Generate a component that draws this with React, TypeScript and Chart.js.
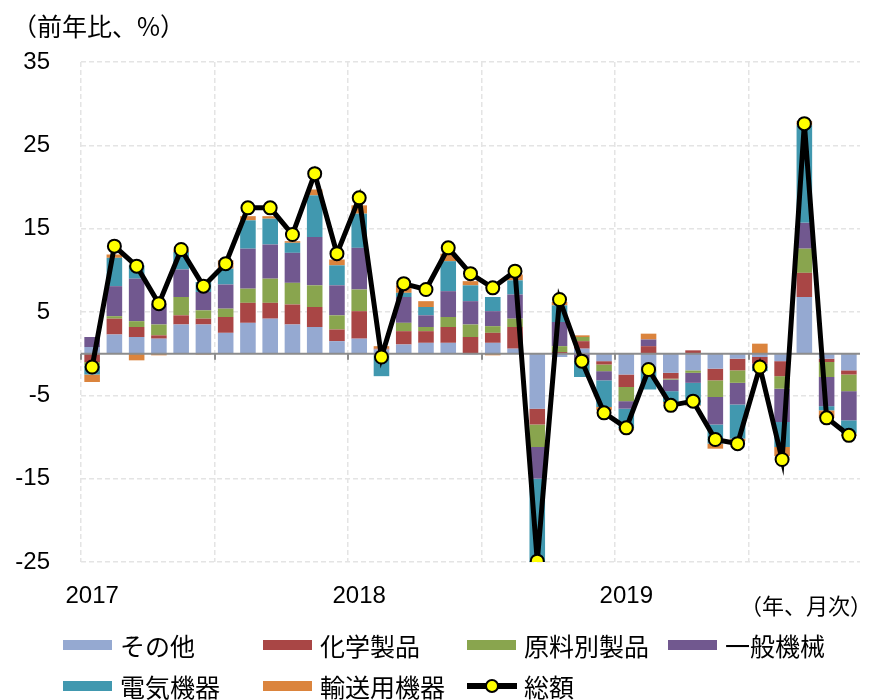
import React, { useEffect, useRef } from "react";
import { Chart, registerables } from "chart.js";

Chart.register(...registerables);

// 2017年1月 〜 2019年11月
const months = [
  "2017-01", "2017-02", "2017-03", "2017-04", "2017-05", "2017-06",
  "2017-07", "2017-08", "2017-09", "2017-10", "2017-11", "2017-12",
  "2018-01", "2018-02", "2018-03", "2018-04", "2018-05", "2018-06",
  "2018-07", "2018-08", "2018-09", "2018-10", "2018-11", "2018-12",
  "2019-01", "2019-02", "2019-03", "2019-04", "2019-05", "2019-06",
  "2019-07", "2019-08", "2019-09", "2019-10", "2019-11",
];
const yearTicks = ["2017", "2018", "2019"];
const yTicks = [-25, -15, -5, 5, 15, 25, 35];

const other = [0.8, 2.3, 2.0, 1.8, 3.5, 3.5, 2.5, 3.7, 4.2, 3.5, 3.2, 1.5, 1.8, 0.5, 1.1, 1.3, 1.3, -0.1, 1.3, 0.6, -6.6, -0.4, 0.6, -0.9, -2.5, -1.9, -2.3, -2.0, -1.8, -0.6, -0.4, -0.9, 6.8, -0.6, -2.0];
const chemical = [-1.0, 1.9, 1.2, 0.4, 1.1, 0.7, 1.9, 2.4, 1.9, 2.4, 2.4, 1.4, 3.3, 0.1, 1.6, 1.4, 1.9, 2.0, 1.2, 2.6, -1.9, 0.2, 0.9, -0.4, -1.5, 0.9, -0.7, 0.4, -1.4, -1.4, -0.8, -1.8, 2.9, -0.4, -0.5];
const material = [-0.4, 0.3, 0.7, 1.3, 2.2, 1.0, 1.0, 1.7, 2.9, 2.6, 2.6, 1.7, 2.6, 0.0, 1.0, 0.5, 1.2, 1.5, 0.8, 1.0, -2.7, 0.7, 0.5, -0.8, -1.7, -0.2, -0.1, -0.3, -2.0, -1.5, 0.0, -1.5, 2.9, -1.8, -2.0];
const machinery = [1.2, 3.6, 5.1, 2.5, 3.3, 2.2, 2.9, 4.8, 4.1, 3.6, 5.8, 3.6, 5.0, -0.2, 3.1, 1.4, 3.1, 2.8, 1.8, 2.9, -3.8, 2.9, -0.8, -1.1, -0.9, 0.8, -1.4, -1.2, -3.3, -2.6, -0.3, -4.0, 3.1, -3.5, -3.5];
const electric = [-1.1, 3.4, 1.6, 0.0, 2.1, 1.2, 1.9, 3.4, 3.1, 1.2, 5.0, 2.4, 4.1, -2.5, 0.5, 1.0, 3.6, 1.9, 1.7, 1.7, -10.1, 2.0, -2.0, -3.2, -2.4, -2.2, -1.3, -2.7, -2.3, -4.1, -0.6, -3.0, 11.7, -0.5, -1.6];
const transport = [-0.9, 0.4, -0.8, -0.2, 0.2, -0.1, 1.0, 0.5, 0.3, 0.2, 0.7, 0.7, 1.0, 0.3, 0.9, 0.7, 0.9, 0.5, -0.2, 0.7, 0.0, 0.4, 0.2, -0.4, -0.2, 0.7, -0.2, -0.1, -0.6, -0.3, 1.2, -1.1, 0.5, -0.9, -0.3];
const total = [-1.6, 12.9, 10.5, 6.0, 12.5, 8.1, 10.8, 17.5, 17.5, 14.3, 21.6, 12.0, 18.7, -0.4, 8.4, 7.7, 12.7, 9.6, 7.9, 9.9, -24.9, 6.5, -0.9, -7.1, -8.9, -1.9, -6.2, -5.7, -10.3, -10.8, -1.6, -12.7, 27.6, -7.7, -9.8];

const seriesNames = ["その他", "化学製品", "原料別製品", "一般機械", "電気機器", "輸送用機器"];
const seriesColors = ["#95A9D1", "#A94645", "#89A54E", "#71588F", "#4198AF", "#DB843D"];
const seriesData = [other, chemical, material, machinery, electric, transport];
const totalName = "総額";

const NUM_FONT = '"Liberation Sans", Arial, "Noto Sans CJK JP", sans-serif';
const JP_FONT = '"Noto Sans CJK JP", "Liberation Sans", sans-serif';
const GRID = "#e4e4e4";

const zeroAxisPlugin = {
  id: "zeroAxis",
  beforeDatasetDraw(chart: any, args: any) {
    if (args.meta.type !== "line") return;
    const { ctx, chartArea, scales } = chart;
    const y = scales.y.getPixelForValue(0);
    const step = chartArea.width / months.length;
    ctx.save();
    ctx.strokeStyle = "#8c8c8c";
    ctx.lineWidth = 2;
    ctx.beginPath();
    ctx.moveTo(chartArea.left, y);
    ctx.lineTo(chartArea.right, y);
    for (let k = 0; k < months.length; k += 6) {
      const x = Math.round(chartArea.left + k * step);
      ctx.moveTo(x, y);
      ctx.lineTo(x, y + 6);
    }
    ctx.stroke();
    ctx.restore();
  },
};

export default function App() {
  const ref = useRef<HTMLCanvasElement>(null);

  useEffect(() => {
    if (!ref.current) return;
    const datasets: any[] = seriesNames.map((name, i) => ({
      type: "bar",
      label: name,
      data: seriesData[i],
      backgroundColor: seriesColors[i],
      borderWidth: 0,
      stack: "parts",
      order: 1,
      barPercentage: 0.7,
      categoryPercentage: 1.0,
    }));
    datasets.push({
      type: "line",
      label: totalName,
      data: total,
      stack: "total",
      order: 0,
      borderColor: "#000000",
      borderWidth: 5,
      tension: 0,
      pointRadius: 6.5,
      pointBorderWidth: 2,
      pointBackgroundColor: "#FFFF00",
      pointBorderColor: "#000000",
    });

    const chart = new Chart(ref.current, {
      type: "bar",
      data: { labels: months, datasets },
      plugins: [zeroAxisPlugin],
      options: {
        responsive: false,
        animation: false,
        devicePixelRatio: 1,
        layout: { padding: { left: 0, top: 62, right: 12, bottom: 88 } },
        plugins: {
          legend: { display: false },
          tooltip: { enabled: false },
        },
        scales: {
          x: {
            stacked: true,
            grid: {
              offset: true,
              drawTicks: false,
              lineWidth: 1.5,
              color: (c: any) => (c.index % 6 === 0 ? GRID : "rgba(0,0,0,0)"),
            },
            border: { display: false, dash: [5, 3] },
            ticks: {
              autoSkip: false,
              maxRotation: 0,
              minRotation: 0,
              padding: 20,
              color: "#000",
              font: { size: 24, family: NUM_FONT },
              callback: (_v: any, index: number) =>
                index % 12 === 0 ? yearTicks[index / 12] : "",
            },
            afterFit: (s: any) => {
              s.height = 50;
            },
          },
          y: {
            stacked: true,
            min: yTicks[0],
            max: yTicks[yTicks.length - 1],
            grid: { drawTicks: false, lineWidth: 1.5, color: GRID },
            border: { display: false, dash: [5, 3] },
            ticks: {
              stepSize: 10,
              padding: 31,
              color: "#000",
              font: { size: 24, family: NUM_FONT },
            },
            afterFit: (s: any) => {
              s.width = 81;
            },
          },
        },
      } as any,
    });
    return () => chart.destroy();
  }, []);

  const legendCols = [63, 263, 467, 668];
  const legendItems = [
    ...seriesNames.map((n, i) => ({ name: n, color: seriesColors[i], line: false })),
    { name: totalName, color: "#000", line: true },
  ];

  return (
    <div
      style={{
        position: "absolute",
        left: 0,
        top: 0,
        width: 872,
        height: 700,
        background: "#fff",
        overflow: "hidden",
      }}
    >
      <canvas ref={ref} width={872} height={700} style={{ position: "absolute", left: 0, top: 0 }} />
      <div
        style={{
          position: "absolute",
          left: 12,
          top: 11,
          fontFamily: JP_FONT,
          fontSize: 25,
          lineHeight: "28px",
          color: "#000",
          whiteSpace: "nowrap",
        }}
      >
        （前年比、%）
      </div>
      <div
        style={{
          position: "absolute",
          right: 0,
          top: 591,
          fontFamily: JP_FONT,
          fontSize: 22,
          lineHeight: "26px",
          color: "#000",
          whiteSpace: "nowrap",
        }}
      >
        （年、月次）
      </div>
      {legendItems.map((it, i) => {
        const col = i % 4;
        const row = Math.floor(i / 4);
        const cy = row === 0 ? 645 : 686;
        const x = legendCols[col];
        return (
          <div key={it.name}>
            {it.line ? (
              <div style={{ position: "absolute", left: x, top: cy - 3, width: 50, height: 6, background: "#000" }}>
                <div
                  style={{
                    position: "absolute",
                    left: 18,
                    top: -4,
                    width: 10,
                    height: 10,
                    borderRadius: "50%",
                    background: "#FFFF00",
                    border: "2px solid #000",
                  }}
                />
              </div>
            ) : (
              <div style={{ position: "absolute", left: x, top: cy - 5, width: 49, height: 10, background: it.color }} />
            )}
            <div
              style={{
                position: "absolute",
                left: x + 57,
                top: cy - 15,
                fontFamily: JP_FONT,
                fontSize: 25,
                lineHeight: "30px",
                color: "#000",
                whiteSpace: "nowrap",
              }}
            >
              {it.name}
            </div>
          </div>
        );
      })}
    </div>
  );
}
